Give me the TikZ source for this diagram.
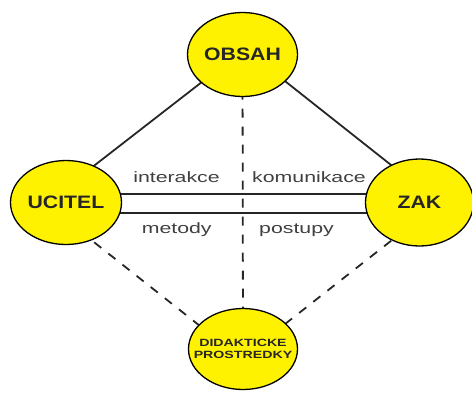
\documentclass[tikz,border=0pt]{standalone}
\usepackage{fontspec}
\usepackage{graphicx}
\setmainfont{Liberation Sans}
\usetikzlibrary{shapes.geometric,calc,backgrounds}
\begin{document}
\begin{tikzpicture}[x=1pt,y=-1pt,
  ell/.style={ellipse, draw=black, line width=1.3pt, fill=yellow, inner sep=0pt},
  bigtxt/.style={font=\bfseries\fontsize{18}{18}\selectfont, text=black!85},
  smalltxt/.style={font=\bfseries\fontsize{10.5}{12}\selectfont, text=black!85, align=center},
  lbl/.style={font=\fontsize{15}{15}\selectfont, text=black!75, anchor=base, inner sep=0pt},
  conn/.style={draw=black!85, line width=1.8pt},
  dconn/.style={draw=black!85, line width=1.8pt, dash pattern=on 9pt off 9pt}]
\useasboundingbox (0,0) rectangle (472,392);
\node[ell, minimum width=110pt, minimum height=84pt,
  label={[bigtxt]center:\scalebox{1.18}[1]{OBSAH}}] (o) at (242.5,54.5) {};
\node[ell, minimum width=111pt, minimum height=84pt,
  label={[bigtxt]center:\scalebox{1.18}[1]{UCITEL}}] (u) at (66,202.5) {};
\node[ell, minimum width=108pt, minimum height=87pt,
  label={[bigtxt]center:\scalebox{1.18}[1]{ZAK}}] (z) at (419.5,202.5) {};
\node[ell, minimum width=109pt, minimum height=81pt,
  label={[smalltxt]center:{\scalebox{1.35}[1]{DIDAKTICKE}\\\scalebox{1.35}[1]{PROSTREDKY}}}] (d) at (243,349) {};
\begin{scope}[on background layer]
  \draw[conn] ($(o.center)+(0,-4)$) -- ($(u.center)+(0,-15)$);
  \draw[conn] ($(o.center)+(0,-7)$) -- ($(z.center)+(0,-15)$);
  \draw[dconn] ($(u.center)+(0,17.5)$) -- ($(d.center)+(0,11)$);
  \draw[dconn] ($(z.center)+(0,16)$) -- ($(d.center)+(0,8)$);
  \draw[dconn] (o.center) -- (d.center);
  \draw[conn] ($(u.center)+(0,-8.5)$) -- ($(z.center)+(0,-8.5)$);
  \draw[conn] ($(u.center)+(0,10.5)$) -- ($(z.center)+(0,10.5)$);
\end{scope}
\node[lbl] (t1) at (176.5,182) {\scalebox{1.42}[1]{interakce}};
\node[lbl] (t2) at (309,182) {\scalebox{1.42}[1]{komunikace}};
\node[lbl] (t3) at (176.7,233) {\scalebox{1.42}[1]{metody}};
\node[lbl] (t4) at (296.5,233) {\scalebox{1.42}[1]{postupy}};
\end{tikzpicture}
\end{document}
